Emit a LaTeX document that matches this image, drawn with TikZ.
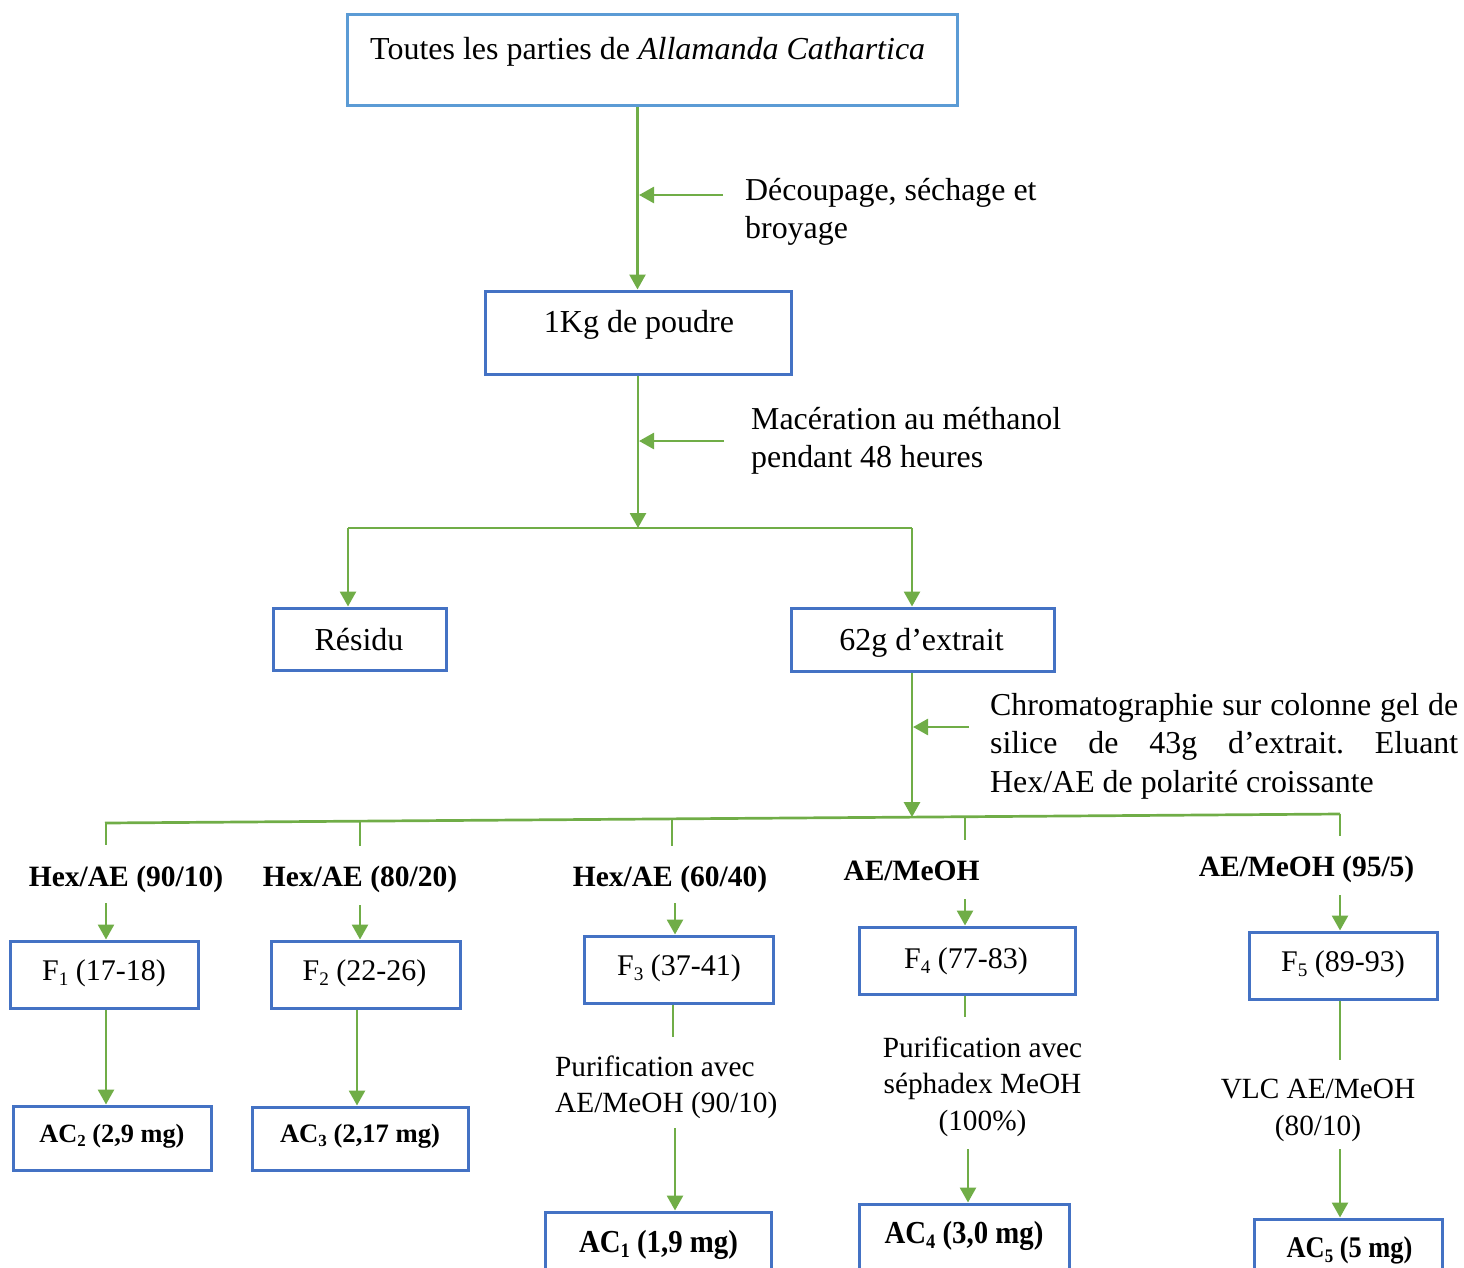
\documentclass[tikz,border=0pt]{standalone}
\usepackage{graphicx}
\usepackage{fontspec}
\setmainfont{Liberation Serif}
\usetikzlibrary{arrows.meta}
\frenchspacing
\definecolor{boxblue}{HTML}{4472C4}
\definecolor{topblue}{HTML}{5B9BD5}
\definecolor{flow}{HTML}{70AD47}
% font size shortcut and Word-like subscript
\newcommand\fs[1]{\fontsize{#1}{#1}\selectfont}
\newcommand\sbs[1]{\raisebox{-0.17em}{\scalebox{0.64}{#1}}}
\newcommand\bx[6][bbox]{\node[#1, minimum width=#5pt, minimum height=#6pt] (#2) at (#3,#4) {};}

\tikzset{
  bbox/.style={draw=boxblue, line width=3pt, inner sep=0pt, fill=none},
  topbox/.style={bbox, draw=topblue},
  arr/.style={draw=flow, line width=2.7pt, -{Triangle[length=15pt,width=16pt]}},
  ln/.style={draw=flow, line width=2.7pt},
  txt/.style={inner sep=0pt, anchor=base, font=\fs{30}},
  txtl/.style={txt, anchor=base west},
  up/.style={txtl, font=\fs{31.9}},
  mid/.style={txt, font=\fs{32}},
  note/.style={txt, font=\fs{29.3}},
  bold/.style={txt, font=\fs{29.5}\bfseries},
}

\begin{document}
\begin{tikzpicture}[x=1pt,y=-1pt]
\useasboundingbox (0,0) rectangle (1464,1267);
\clip (0,0) rectangle (1464,1267);

% ---- boxes ----
\bx[topbox]{top}{652}{59.5}{610}{91}
\bx{powder}{638}{332.5}{306}{83}
\bx{residu}{359.5}{639}{173}{62}
\bx{extrait}{922.5}{639.5}{263}{63}
\bx{fa}{104}{974.5}{188}{67}
\bx{fb}{365.5}{974.5}{189}{67}
\bx{fc}{678.5}{969.5}{189}{67}
\bx{fd}{967}{960.5}{216}{67}
\bx{fe}{1343}{965.5}{188}{67}
\bx{acb}{112}{1138}{198}{64}
\bx{acc}{360}{1138.5}{216}{63}
\bx{aca}{658}{1252}{226}{80}
\bx{acd}{964}{1244}{210}{80}
\bx{ace}{1348}{1259}{188}{80}

% ---- texts ----
\node[txtl, font=\fs{32}] (ttop) at (370,59) {Toutes les parties de \textit{Allamanda Cathartica}};
\node[up] (tdec1) at (745,200) {Découpage, séchage et};
\node[up] (tdec2) at (745,238) {broyage};
\node[mid] (tpow) at (639,332) {1Kg de poudre};
\node[up] (tmac1) at (751,429) {Macération au méthanol};
\node[up] (tmac2) at (751,467) {pendant 48 heures};
\node[mid] (tres) at (359,650) {Résidu};
\node[mid] (text) at (921.5,650) {62g d’extrait};
\node[up] (tchr1) at (990,715) {\makebox[468pt][s]{Chromatographie sur colonne gel de}};
\node[up] (tchr2) at (990,753) {\makebox[468pt][s]{silice de 43g d’extrait. Eluant}};
\node[up] (tchr3) at (990,792) {Hex/AE de polarité croissante};

\node[bold] (ea) at (126,886) {Hex/AE (90/10)};
\node[bold] (eb) at (360,886) {Hex/AE (80/20)};
\node[bold] (ec) at (670,886) {Hex/AE (60/40)};
\node[bold] (ed) at (911.5,880) {AE/MeOH};
\node[bold] (ee) at (1306.5,876) {AE/MeOH (95/5)};

\node[txt] (tfa) at (104,980) {F\sbs{1} (17-18)};
\node[txt] (tfb) at (364.5,980) {F\sbs{2} (22-26)};
\node[txt] (tfc) at (679,975) {F\sbs{3} (37-41)};
\node[txt] (tfd) at (966,968) {F\sbs{4} (77-83)};
\node[txt] (tfe) at (1343,971) {F\sbs{5} (89-93)};

\node[note, anchor=base west] (pc1) at (555,1076) {Purification avec};
\node[note, anchor=base west] (pc2) at (555,1112) {AE/MeOH (90/10)};
\node[note] (pd1) at (982.5,1057) {Purification avec};
\node[note] (pd2) at (982.5,1093) {séphadex MeOH};
\node[note] (pd3) at (982.5,1130) {(100\%)};
\node[note] (pe1) at (1318,1098) {VLC AE/MeOH};
\node[note] (pe2) at (1318,1135) {(80/10)};

\node[txt, font=\fs{26.3}\bfseries] (tacb) at (112,1142) {AC\sbs{2} (2,9 mg)};
\node[txt, font=\fs{26.6}\bfseries] (tacc) at (360,1142) {AC\sbs{3} (2,17 mg)};
\node[txt, font=\fs{32}\bfseries] (taca) at (658.5,1252) {\scalebox{0.9}[1]{AC\sbs{1} (1,9 mg)}};
\node[txt, font=\fs{32}\bfseries] (tacd) at (964,1243) {\scalebox{0.9}[1]{AC\sbs{4} (3,0 mg)}};
\node[txt, font=\fs{30}\bfseries] (tace) at (1349.5,1257) {\scalebox{0.88}[1]{AC\sbs{5} (5 mg)}};

% ---- connectors, upper part ----
\draw[arr] (637.5,0 |- top.south) -- (637.5,0 |- powder.north);
\coordinate (s1a) at (723,195);
\coordinate (s1b) at (639,195);
\draw[arr] (s1a) -- (s1b);

\coordinate (j1) at (638,528);
\draw[arr] (powder.south) -- (j1);
\coordinate (s2a) at (724,441);
\coordinate (s2b) at (639,441);
\draw[arr] (s2a) -- (s2b);

\coordinate (jl) at (348,528);
\coordinate (jr) at (912,528);
\draw[ln] (jl) -- (jr);
\draw[arr] (jl) -- (jl |- residu.north);
\draw[arr] (jr) -- (jr |- extrait.north);

% ---- chromatography split ----
\coordinate (bl) at (105,823);
\coordinate (br) at (1340,814);
\coordinate (bm) at (912,817.1);
\draw[arr] (912,0 |- extrait.south) -- (bm);
\coordinate (s3a) at (969,727);
\coordinate (s3b) at (913,727);
\draw[arr] (s3a) -- (s3b);
\draw[ln] (bl) -- (br);

\coordinate (da) at (106,822.9);
\coordinate (db) at (360,821.1);
\coordinate (dc) at (672,818.9);
\coordinate (dd) at (965,816.7);
\coordinate (de) at (1340,814);
\draw[ln] (da) -- (106,845);
\draw[ln] (db) -- (360,846);
\draw[ln] (dc) -- (672,846);
\draw[ln] (dd) -- (965,840);
\draw[ln] (de) -- (1340,836);

\draw[arr] (106,903) -- (106,0 |- fa.north);
\draw[arr] (360,905) -- (360,0 |- fb.north);
\draw[arr] (675,903) -- (675,0 |- fc.north);
\draw[arr] (965,899) -- (965,0 |- fd.north);
\draw[arr] (1340,895) -- (1340,0 |- fe.north);

% ---- fractions to compounds ----
\draw[arr] (106,0 |- fa.south) -- (106,0 |- acb.north);
\draw[arr] (357,0 |- fb.south) -- (357,0 |- acc.north);

\draw[ln] (673,0 |- fc.south) -- (673,1037);
\draw[arr] (675,1128) -- (675,0 |- aca.north);

\draw[ln] (965,0 |- fd.south) -- (965,1017);
\draw[arr] (968,1149) -- (968,0 |- acd.north);

\draw[ln] (1340,0 |- fe.south) -- (1340,1060);
\draw[arr] (1340,1149) -- (1340,0 |- ace.north);
\end{tikzpicture}
\end{document}
